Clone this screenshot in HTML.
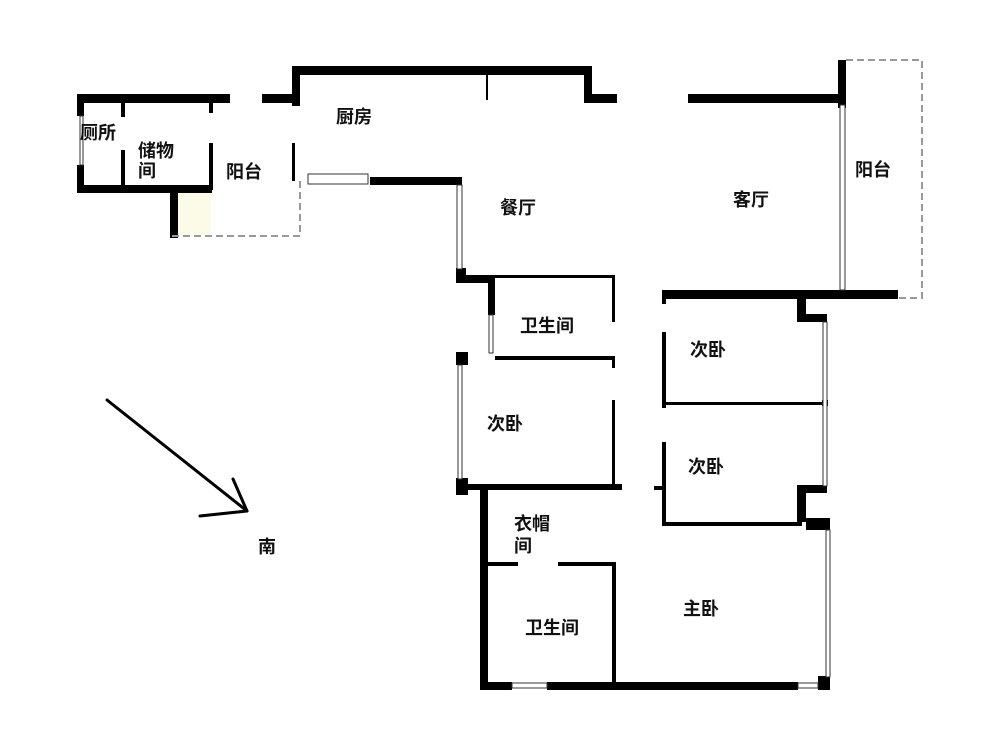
<!DOCTYPE html>
<html><head><meta charset="utf-8"><style>
html,body{margin:0;padding:0;background:#fff;}
svg{display:block}
text{font-family:"Liberation Sans","Noto Sans CJK SC",sans-serif;font-size:18px;font-weight:bold;fill:#111}
</style></head><body>
<svg width="1000" height="750" viewBox="0 0 1000 750" xmlns="http://www.w3.org/2000/svg">
<g fill="#000">
<!-- left block -->
<rect x="77" y="94" width="153" height="9"/>
<rect x="77" y="94" width="7" height="22"/>
<rect x="77" y="165" width="7" height="28"/>
<rect x="77" y="185" width="135" height="8"/>
<rect x="121" y="103" width="4" height="14"/>
<rect x="121" y="150" width="4" height="38"/>
<rect x="209" y="103" width="4" height="10"/>
<rect x="209" y="143" width="4" height="47"/>
<rect x="170" y="190" width="8" height="48"/>
<rect x="262" y="94" width="38" height="9"/>
<!-- kitchen -->
<rect x="292" y="66" width="300" height="9"/>
<rect x="292" y="66" width="8" height="40"/>
<rect x="292" y="143" width="3" height="38"/>
<rect x="486" y="75" width="2" height="25"/>
<rect x="584" y="66" width="8" height="37"/>
<rect x="584" y="94" width="33" height="9"/>
<rect x="370" y="177" width="92" height="8"/>
<rect x="688" y="94" width="155" height="9"/>
<rect x="838" y="60" width="8" height="48"/>
<rect x="662" y="290" width="236" height="9"/>
<!-- middle left -->
<rect x="456" y="268" width="10" height="15"/>
<rect x="456" y="275" width="39" height="8"/>
<rect x="488" y="275" width="7" height="40"/>
<rect x="495" y="275" width="120" height="3"/>
<rect x="612" y="275" width="3" height="47"/>
<rect x="495" y="356" width="120" height="4"/>
<rect x="612" y="356" width="3" height="12"/>
<rect x="456" y="352" width="12" height="13"/>
<rect x="612" y="400" width="3" height="86"/>
<rect x="456" y="478" width="12" height="17"/>
<rect x="456" y="484" width="166" height="6"/>
<!-- right bedrooms -->
<rect x="662" y="292" width="4" height="12"/>
<rect x="662" y="332" width="4" height="76"/>
<rect x="665" y="402" width="161" height="3"/>
<rect x="662" y="442" width="4" height="84"/>
<rect x="654" y="486" width="12" height="4"/>
<rect x="662" y="522" width="140" height="4"/>
<rect x="797" y="296" width="9" height="26"/>
<rect x="797" y="314" width="30" height="8"/>
<rect x="797" y="485" width="30" height="8"/>
<rect x="797" y="485" width="9" height="37"/>
<rect x="806" y="518" width="24" height="12"/>
<rect x="822" y="400" width="6" height="6"/>
<!-- bottom -->
<rect x="480" y="490" width="8" height="200"/>
<rect x="480" y="682" width="32" height="8"/>
<rect x="547" y="682" width="251" height="8"/>
<rect x="818" y="676" width="12" height="14"/>
<rect x="488" y="562" width="30" height="4"/>
<rect x="558" y="562" width="57" height="4"/>
<rect x="612" y="562" width="4" height="124"/>
</g>
<!-- windows -->
<g fill="#fff" stroke="#333" stroke-width="1">
<rect x="80" y="116" width="3" height="49"/>
<rect x="308" y="174" width="60" height="10"/>
<rect x="457" y="185" width="5" height="84"/>
<rect x="840" y="105" width="5" height="185"/>
<rect x="489" y="315" width="4" height="38"/>
<rect x="458" y="365" width="4" height="114"/>
<rect x="823" y="322" width="4" height="164"/>
<rect x="826" y="530" width="4" height="147"/>
<rect x="512" y="683" width="35" height="5"/>
<rect x="798" y="683" width="20" height="5"/>
</g>
<rect x="178" y="193" width="33" height="42" fill="#fbfbe8"/>
<!-- dashed balconies -->
<g fill="none" stroke="#999" stroke-width="2" stroke-dasharray="7,4">
<polyline points="172,236 300,236 300,178"/>
<polyline points="846,60 922,60 922,298 898,298"/>
</g>
<!-- arrow -->
<g stroke="#000" stroke-width="3" fill="none" stroke-linecap="round">
<line x1="107" y1="400" x2="247" y2="511"/>
<line x1="233" y1="479" x2="247" y2="511"/>
<line x1="200" y1="516" x2="247" y2="511"/>
</g>
<text x="80" y="139">厕所</text>
<text x="138" y="157">储物</text>
<text x="138" y="177">间</text>
<text x="226" y="178">阳台</text>
<text x="336" y="123">厨房</text>
<text x="500" y="214">餐厅</text>
<text x="733" y="206">客厅</text>
<text x="855" y="176">阳台</text>
<text x="520" y="332">卫生间</text>
<text x="690" y="356">次卧</text>
<text x="487" y="430">次卧</text>
<text x="688" y="473">次卧</text>
<text x="514" y="530">衣帽</text>
<text x="514" y="552">间</text>
<text x="525" y="634">卫生间</text>
<text x="683" y="615">主卧</text>
<text x="258" y="553">南</text>
</svg>
</body></html>
